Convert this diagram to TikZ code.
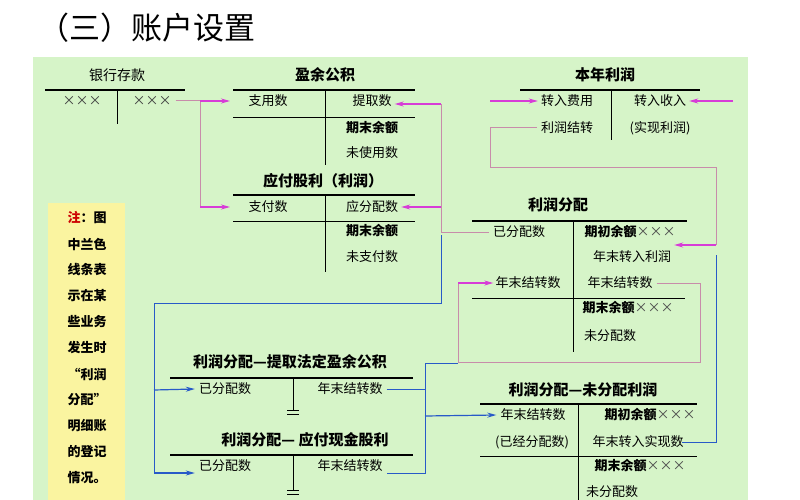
\documentclass[tikz,border=0pt]{standalone}
\usepackage{fontspec}
\setmainfont{Noto Sans CJK SC}
\usetikzlibrary{arrows.meta}
\definecolor{bgg}{RGB}{214,244,200}
\definecolor{noteY}{RGB}{250,244,160}
\definecolor{pk}{RGB}{215,60,215}
\definecolor{pkl}{RGB}{200,140,170}
\definecolor{bl}{RGB}{40,90,200}
\begin{document}
\begin{tikzpicture}[x=1pt,y=-1pt,
  tx/.style={font=\fontsize{13}{13}\selectfont,inner sep=0pt},
  tb/.style={font=\fontsize{13}{13}\selectfont\bfseries,inner sep=0pt},
  ttl/.style={font=\fontsize{15}{15}\selectfont\bfseries,inner sep=0pt},
  acl/.style={line width=1.3pt},
  pl/.style={pkl,line width=1pt},
  bln/.style={bl,line width=1pt},
  pa/.style={pk,line width=1.2pt,-{Stealth[length=9pt,width=5pt]}},
  ba/.style={bl,line width=1.2pt,-{Stealth[length=9pt,width=5pt]}}]
\useasboundingbox (0,0) rectangle (800,500);
\fill[white] (0,0) rectangle (800,500);
\node[font=\fontsize{31}{31}\selectfont,inner sep=0pt,anchor=west] (title) at (38,28) {（三）账户设置};
\fill[bgg] (33,57) rectangle (748,500);
\fill[noteY] (48,203) rectangle (125,500);
\foreach \t [count=\i] in {{\textcolor{red!80!black}{注}：图},中兰色,线条表,示在某,些业务,发生时,“利润,分配”,明细账,的登记,情况。}
  \node[tb] (n\i) at (87,218+26*\i-26) {\t};
% 银行存款
\node[font=\fontsize{14}{14}\selectfont,inner sep=0pt] (yh) at (117,75) {银行存款};
\draw[acl] (45,90) -- (185,90); \draw[line width=1pt] (117,90) -- (117,124);
\node[tx,gray!50!black] (yh1) at (82,101) {×××};
\node[tx,gray!50!black] (yh2) at (152,101) {×××};
% 盈余公积
\node[ttl] (yy) at (325,75) {盈余公积};
\draw[acl] (233,90) -- (415,90); \draw[line width=0.8pt] (233,117) -- (415,117);
\draw[line width=1pt] (325,90) -- (325,165);
\node[tx] (yy1) at (268,101) {支用数};
\node[tx] (yy2) at (372,101) {提取数};
\node[tb] (yy3) at (372,128) {期末余额};
\node[tx] (yy4) at (372,153) {未使用数};
% 应付股利
\node[ttl] (yf) at (323,181) {应付股利（利润）};
\draw[acl] (233,195) -- (415,195); \draw[line width=0.8pt] (233,221) -- (415,221);
\draw[line width=1pt] (325,195) -- (325,272);
\node[tx] (yf1) at (268,207) {支付数};
\node[tx] (yf2) at (372,207) {应分配数};
\node[tb] (yf3) at (372,231) {期末余额};
\node[tx] (yf4) at (372,257) {未支付数};
% 本年利润
\node[ttl] (bn) at (605,75) {本年利润};
\draw[acl] (520,90) -- (700,90); \draw[line width=1pt] (611,90) -- (611,140);
\node[tx] (bn1) at (567,101) {转入费用};
\node[tx] (bn2) at (660,101) {转入收入};
\node[tx] (bn3) at (567,128) {利润结转};
\node[tx] (bn4) at (660,128) {(实现利润)};
% 利润分配
\node[ttl] (fp) at (558,205) {利润分配};
\draw[acl] (472,221) -- (687,221); \draw[line width=1pt] (472,298) -- (685,298);
\draw[line width=1pt] (573,221) -- (573,352);
\node[tx] (fp1) at (519,232) {已分配数};
\node[tx] (fp2) at (630,232) {\textbf{期初余额}\textcolor{gray!60!black}{×××}};
\node[tx] (fp3) at (632,257) {年末转入利润};
\node[tx] (fp4) at (528,283) {年末结转数};
\node[tx] (fp5) at (620,283) {年末结转数};
\node[tx] (fp6) at (628,308) {\textbf{期末余额}\textcolor{gray!60!black}{×××}};
\node[tx] (fp7) at (610,336) {未分配数};
% 提取法定盈余公积
\node[ttl] (tq) at (290,362) {利润分配—提取法定盈余公积};
\draw[acl] (170,378) -- (413,378); \draw[line width=1pt] (293,378) -- (293,410);
\draw (287,410) -- (299,410) (287,414) -- (299,414);
\node[tx] (tq1) at (225,389) {已分配数};
\node[tx] (tq2) at (350,389) {年末结转数};
% 应付现金股利
\node[ttl] (xj) at (305,440) {利润分配— 应付现金股利};
\draw[acl] (170,455) -- (413,455); \draw[line width=1pt] (293,455) -- (293,490);
\draw (287,490) -- (299,490) (287,494) -- (299,494);
\node[tx] (xj1) at (225,466) {已分配数};
\node[tx] (xj2) at (350,466) {年末结转数};
% 未分配利润
\node[ttl] (wf) at (583,390) {利润分配—未分配利润};
\draw[acl] (480,404) -- (697,404); \draw[line width=1pt] (480,456) -- (697,456);
\draw[line width=1pt] (578,404) -- (578,500);
\node[tx] (wf1) at (533,415) {年末结转数};
\node[tx] (wf2) at (650,415) {\textbf{期初余额}\textcolor{gray!60!black}{×××}};
\node[tx] (wf3) at (532,442) {(已经分配数)};
\node[tx] (wf4) at (638,442) {年末转入实现数};
\node[tx] (wf5) at (640,466) {\textbf{期末余额}\textcolor{gray!60!black}{×××}};
\node[tx] (wf6) at (612,492) {未分配数};
% connectors pink
\coordinate (p1) at (200,101); \coordinate (p2) at (200,207);
\draw[pl] (yh2.east)++(4,0) -- (p1) -- (p2);
\draw[pa] (p1) -- (230,101);
\draw[pa] (p2) -- (230,207);
\coordinate (q1) at (441,104); \coordinate (q2) at (441,207);
\draw[pl] ([xshift=-4pt]fp1.west) -- (441,232) -- (q1);
\draw[pa] (q1) -- ([xshift=3pt]yy2.east |- q1);
\draw[pa] (q2) -- ([xshift=3pt]yf2.east);
\draw[pa] (490,101) -- ([xshift=-3pt]bn1.west);
\draw[pa] (733,101) -- ([xshift=3pt]bn2.east);
\draw[pl] ([xshift=-4pt]bn3.west) -- (490,128) -- (490,167) -- (716,167) -- (716,245);
\draw[pa] (716,245) -- ([xshift=3pt]fp3.east |- 0,245);
\draw[pl] ([xshift=4pt]fp5.east) -- (700,283) -- (700,362) -- (458,362) -- (458,283);
\draw[pa] (458,283) -- ([xshift=-2pt]fp4.west);
% blue
\draw[bln] (441,235) -- (441,303) -- (154,303) -- (154,473);
\draw[ba] (154,390) -- ([xshift=-4pt]tq1.west);
\draw[ba] (154,473) -- ([xshift=-4pt]xj1.west |- 0,473);
\draw[bln] (716,255) -- (716,442) -- ([xshift=-2pt]wf4.east |- 0,442);
\draw[bln] ([xshift=4pt]tq2.east) -- (425,389) (425,363) -- (425,473) -- ([xshift=4pt]xj2.east |- 0,473);
\draw[bln] (425,363) -- (458,363);
\draw[ba] (425,416) -- ([xshift=-4pt]wf1.west);
\end{tikzpicture}
\end{document}
